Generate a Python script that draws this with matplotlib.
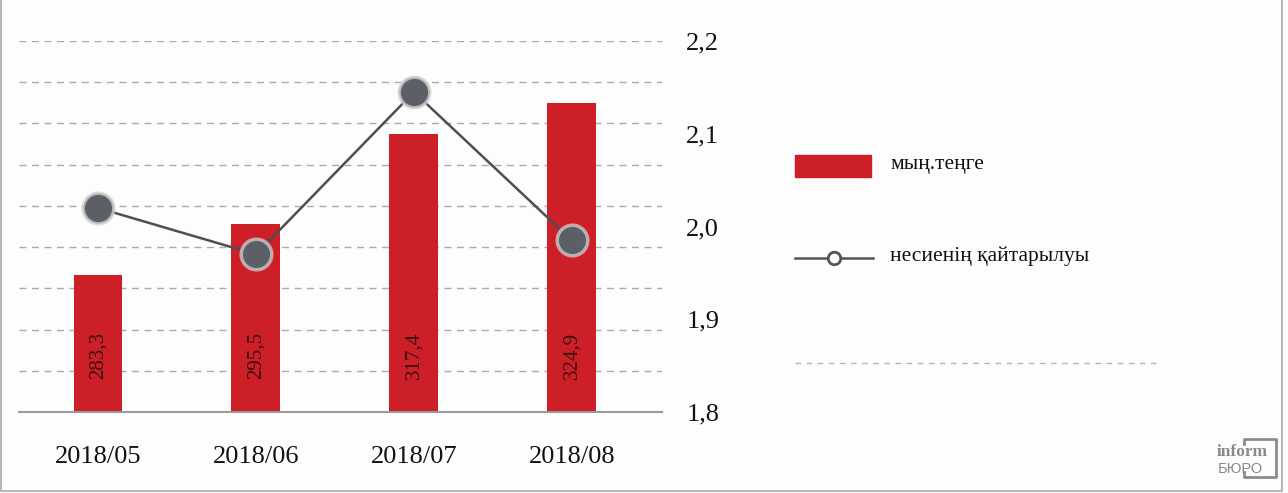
import matplotlib
matplotlib.use('Agg')
import matplotlib.pyplot as plt
from matplotlib.lines import Line2D
from matplotlib.patches import Rectangle

# ---- data ----
categories = ['2018/05', '2018/06', '2018/07', '2018/08']
amounts = [283.3, 295.5, 317.4, 324.9]
amount_labels = ['283,3', '295,5', '317,4', '324,9']
repayment = [2.02, 1.97, 2.145, 1.985]
right_ticks = [1.8, 1.9, 2.0, 2.1, 2.2]
right_tick_labels = ['1,8', '1,9', '2,0', '2,1', '2,2']
legend_bar = 'мың.теңге'
legend_line = 'несиенің қайтарылуы'

plt.rcParams['font.family'] = ['Liberation Serif', 'DejaVu Serif']

W, H = 1288, 493
fig = plt.figure(figsize=(W / 100, H / 100), dpi=100)
fig.patch.set_facecolor('#fdfdfd')

def fx(px):
    return px / W

def fy(py):
    return 1 - py / H

ax = fig.add_axes([fx(19), fy(412), (662 - 19) / W, (412 - 41) / H])
ax.set_facecolor('none')
xs = list(range(len(categories)))
ax.set_xlim(-0.5, 3.57)
ax.set_ylim(250, 340)
ax.set_yticks(list(range(260, 341, 10)))
ax.yaxis.grid(True, linestyle=(0, (5, 4)), color='#ababab', linewidth=1)
ax.set_axisbelow(True)
for s in ['left', 'right', 'top']:
    ax.spines[s].set_visible(False)
ax.spines['bottom'].set_color('#9a9a9a')
ax.spines['bottom'].set_linewidth(1.5)

ax.bar(xs, amounts, width=0.31, color='#cd1f27', zorder=2)
for i, lab in enumerate(amount_labels):
    ax.text(i, 263.8, lab, rotation=90, ha='center', va='center',
            fontsize=15, color='#3d0d0d', zorder=3)

ax.set_xticks(xs)
ax.set_xticklabels(categories, fontsize=19, color='#111111')
ax.tick_params(axis='x', bottom=False, pad=21)

ax2 = ax.twinx()
ax.tick_params(axis='y', left=False, right=False, labelleft=False, labelright=False)
ax2.set_ylim(1.8, 2.2)
ax2.set_yticks(right_ticks)
ax2.set_yticklabels(right_tick_labels, fontsize=19, color='#111111')
ax2.tick_params(axis='y', left=False, right=False, pad=14)
for s in ax2.spines.values():
    s.set_visible(False)
ax2.plot(xs, repayment, color='#4f4f4f', linewidth=1.8, marker='o',
         markersize=22, markerfacecolor='#5c6066',
         markeredgecolor=(0.82, 0.82, 0.82, 0.75), markeredgewidth=2.5,
         zorder=4)

# ---- legend (drawn in figure pixels) ----
fig.patches.append(Rectangle((fx(795), fy(177)), 76 / W, 22 / H,
                             transform=fig.transFigure, color='#cd1f27'))
fig.text(fx(890), fy(165), legend_bar, fontsize=15.5, va='center', ha='left',
         color='#111111')
fig.lines.append(Line2D([fx(795), fx(873)], [fy(258), fy(258)],
                        transform=fig.transFigure, color='#555555', lw=1.8))
fig.lines.append(Line2D([fx(834)], [fy(258)], transform=fig.transFigure,
                        marker='o', markersize=9, markerfacecolor='#fdfdfd',
                        markeredgecolor='#555555', markeredgewidth=2,
                        linestyle='none'))
fig.text(fx(890), fy(256), legend_line, fontsize=15.5, va='center', ha='left',
         color='#111111')
fig.lines.append(Line2D([fx(795), fx(1158)], [fy(363), fy(363)],
                        transform=fig.transFigure, color='#b5b5b5', lw=1,
                        linestyle=(0, (4, 4))))

# ---- frame ----
fig.lines.append(Line2D([fx(1), fx(1), fx(1282), fx(1282)],
                        [fy(0), fy(491), fy(491), fy(0)],
                        transform=fig.transFigure, color='#b8b8b8', lw=1.5))

# ---- logo ----
fig.lines.append(Line2D([fx(1244), fx(1244), fx(1276), fx(1276), fx(1244), fx(1244)],
                        [fy(444), fy(439), fy(439), fy(477), fy(477), fy(472)],
                        transform=fig.transFigure, color='#8c8c8c', lw=2))
fig.text(fx(1217), fy(452), 'inform', fontsize=12.5, fontweight='bold',
         color='#8a8a8a', va='center', ha='left')
fig.text(fx(1218), fy(469), 'БЮРО', fontsize=10.5, color='#8a8a8a',
         va='center', ha='left', family=['Liberation Sans', 'DejaVu Sans'])

fig.savefig('out.png', dpi=100, facecolor=fig.get_facecolor())
